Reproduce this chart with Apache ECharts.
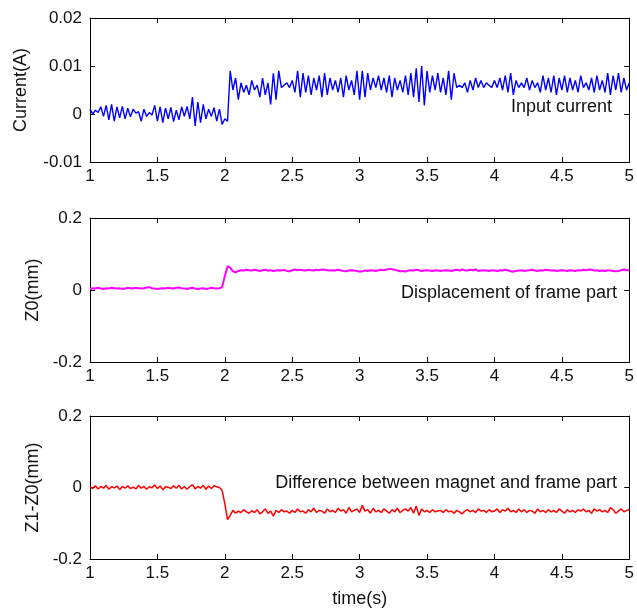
<!DOCTYPE html>
<html>
<head>
<meta charset="utf-8">
<script src="https://cdn.jsdelivr.net/npm/echarts@6/dist/echarts.min.js"></script>
<style>
html, body { margin: 0; background: #fff; }
#chart { width: 637px; height: 610px; }
</style>
</head>
<body>
<div id="chart"></div>
<script>
// samples every 0.02 s from t = 1 s to 5 s
var tStart = 1;
var tStep = 0.02;

// input current, mA (converted to A for the plot)
var currentMA = [
  1.0, 0.0, 0.8, 0.3, 1.5, -0.5, 1.8, -1.2, 2.0, -1.5,
  1.5, -0.8, 1.6, -1.0, 1.2, -0.6, 1.0, 0.2, 0.5, -1.5,
  1.0, -0.5, 0.3, -0.2, 1.8, -1.5, 1.5, -1.8, 1.2, -1.0,
  1.4, -1.6, 0.8, -1.2, 1.5, -0.5, 1.6, -1.0, 3.5, -2.5,
  2.5, -1.8, 2.0, -1.0, 1.0, -0.5, 1.3, -1.5, 1.0, -2.2,
  -1.0, -1.5, 9.0, 5.0, 7.5, 3.0, 6.5, 4.5, 6.0, 4.0,
  7.0, 5.0, 6.0, 3.5, 7.5, 4.0, 6.5, 2.0, 8.5, 3.0,
  9.0, 5.5, 6.0, 6.5, 5.5, 7.0, 4.5, 9.0, 3.5, 8.5,
  4.5, 8.0, 4.0, 7.5, 5.0, 8.0, 3.5, 8.5, 4.0, 7.5,
  5.0, 7.0, 4.5, 7.5, 3.5, 8.0, 5.0, 7.0, 4.0, 9.0,
  3.0, 9.0, 3.5, 8.5, 5.0, 7.5, 5.5, 8.0, 5.0, 7.5,
  4.5, 8.0, 3.5, 7.5, 5.0, 7.0, 4.5, 8.0, 4.0, 8.5,
  3.5, 9.5, 2.5, 10.0, 1.8, 9.0, 4.5, 8.0, 5.0, 8.5,
  4.5, 7.5, 4.0, 9.0, 3.0, 8.5, 5.5, 6.0, 5.5, 6.5,
  4.5, 7.0, 5.0, 7.5, 5.5, 7.0, 5.5, 6.5, 6.0, 5.5,
  7.0, 5.5, 7.5, 5.0, 8.0, 4.5, 8.5, 4.0, 7.0, 5.5,
  6.5, 5.5, 7.5, 5.0, 7.0, 5.5, 6.5, 4.5, 8.0, 5.0,
  7.5, 4.5, 8.0, 4.0, 7.5, 5.0, 8.0, 4.5, 7.5, 5.0,
  7.0, 4.5, 8.0, 5.5, 6.5, 5.0, 7.5, 4.5, 8.0, 5.0,
  7.0, 4.5, 8.5, 4.0, 8.0, 5.0, 8.5, 4.5, 7.5, 5.0,
  6.5
];

// frame displacement Z0, um (converted to mm)
var z0Um = [
  3, 5, 4, 6, 4, 3, 5, 4, 6, 5,
  4, 5, 3, 4, 6, 5, 4, 6, 5, 4,
  5, 7, 8, 5, 4, 3, 4, 5, 4, 6,
  5, 4, 6, 7, 5, 4, 3, 5, 6, 4,
  3, 4, 5, 3, 4, 6, 5, 4, 5, 8,
  38, 66, 62, 52, 49, 53, 55, 54, 56, 55,
  54, 56, 55, 53, 55, 56, 54, 55, 53, 54,
  55, 54, 56, 53, 52, 55, 57, 55, 56, 55,
  54, 56, 55, 54, 56, 55, 57, 56, 55, 54,
  55, 54, 56, 55, 53, 52, 54, 55, 54, 53,
  51, 52, 54, 53, 55, 54, 53, 55, 56, 55,
  57, 58, 58, 56, 54, 52, 53, 51, 54, 55,
  54, 56, 55, 53, 54, 55, 54, 53, 55, 54,
  53, 54, 55, 54, 53, 55, 56, 54, 57, 55,
  54, 56, 55, 57, 53, 54, 55, 54, 53, 55,
  54, 53, 55, 54, 56, 55, 52, 51, 53, 54,
  55, 53, 54, 55, 56, 54, 53, 55, 54, 56,
  55, 54, 55, 53, 54, 55, 54, 53, 55, 54,
  53, 55, 54, 56, 55, 57, 56, 54, 55, 53,
  54, 53, 55, 54, 53, 52, 53, 55, 57, 55,
  55
];

// magnet minus frame Z1-Z0, um (converted to mm)
var diffUm = [
  2, -3, 5, -4, 3, -2, 6, -5, 2, -1,
  4, -6, 3, -2, 5, -3, 1, -4, 6, -2,
  3, -5, 2, -1, 7, -3, 4, -6, 2, 1,
  -3, 5, -2, 6, -4, 3, -5, 2, 8, -4,
  3, -2, 6, -5, 4, -3, 5, 2, 0, -8,
  -45, -90, -78, -64, -72, -66, -70, -62, -68, -72,
  -65, -70, -62, -74, -68, -60, -72, -66, -80, -64,
  -70, -62, -68, -66, -72, -64, -70, -60, -68, -66,
  -72, -62, -68, -58, -70, -64, -66, -72, -60, -68,
  -64, -70, -58, -66, -62, -72, -56, -68, -64, -60,
  -70, -50, -66, -62, -72, -58, -68, -64, -70, -60,
  -66, -72, -62, -68, -58, -70, -64, -60, -66, -56,
  -72, -52, -78, -60, -68, -64, -70, -62, -68, -66,
  -64, -70, -62, -68, -66, -72, -64, -68, -74, -66,
  -62, -68, -64, -70, -60, -66, -64, -70, -62, -68,
  -66, -60, -70, -62, -66, -58, -68, -64, -70, -60,
  -68, -62, -70, -64, -66, -72, -60, -68, -64, -70,
  -62, -68, -64, -70, -60, -66, -72, -62, -68, -64,
  -70, -62, -66, -60, -68, -64, -72, -60, -66, -62,
  -68, -64, -70, -56, -62, -72, -66, -60, -68, -64,
  -62
];

var yNames = ['Current(A)', 'Z0(mm)', 'Z1-Z0(mm)'];
var yMin = [-0.01, -0.2, -0.2];
var yMax = [0.02, 0.2, 0.2];
var yInterval = [0.01, 0.2, 0.2];
var notes = ['Input current', 'Displacement of frame part', 'Difference between magnet and frame part'];
var lineColors = ['#0000ff', '#ff00ff', '#ff0000'];

function toPairs(vals, scale) {
  return vals.map(function (v, i) {
    return [+(tStart + i * tStep).toFixed(2), +(v * scale).toFixed(5)];
  });
}

var seriesData = [toPairs(currentMA, 0.001), toPairs(z0Um, 0.001), toPairs(diffUm, 0.001)];

var font = "'Liberation Sans', Arial, sans-serif";
var grids = [
  { left: 90, top: 18, width: 543, height: 144 },
  { left: 90, top: 218, width: 543, height: 144 },
  { left: 90, top: 416, width: 543, height: 143 }
];
var nameGaps = [60, 48, 48];
var noteY = [108, 294, 484];
var noteRight = [612, 617, 617];
var lineWidths = [1.4, 2, 1.5];

var xAxes = [], yAxes = [], series = [], graphics = [];
var tick = { show: true, inside: true, length: 5, lineStyle: { color: '#000' } };
var line = { show: true, onZero: false, lineStyle: { color: '#000', width: 1 } };

for (var g = 0; g < 3; g++) {
  xAxes.push({
    type: 'value', gridIndex: g, position: 'bottom', min: 1, max: 5, interval: 0.5,
    axisLine: line, axisTick: tick, splitLine: { show: false },
    axisLabel: { color: '#111', fontFamily: font, fontSize: 17, margin: 6 },
    name: g === 2 ? 'time(s)' : '', nameLocation: 'middle', nameGap: 31,
    nameTextStyle: { color: '#111', fontFamily: font, fontSize: 18 }
  });
  xAxes.push({
    type: 'value', gridIndex: g, position: 'top', min: 1, max: 5, interval: 0.5,
    axisLine: line, axisTick: tick, axisLabel: { show: false }, splitLine: { show: false }
  });
  yAxes.push({
    type: 'value', gridIndex: g, position: 'left', min: yMin[g], max: yMax[g], interval: yInterval[g],
    axisLine: line, axisTick: tick, splitLine: { show: false },
    axisLabel: { color: '#111', fontFamily: font, fontSize: 17, margin: 8 },
    name: yNames[g], nameLocation: 'middle', nameGap: nameGaps[g],
    nameTextStyle: { color: '#111', fontFamily: font, fontSize: 18 }
  });
  yAxes.push({
    type: 'value', gridIndex: g, position: 'right', min: yMin[g], max: yMax[g], interval: yInterval[g],
    axisLine: line, axisTick: tick, axisLabel: { show: false }, splitLine: { show: false }
  });
  series.push({
    type: 'line', xAxisIndex: g * 2, yAxisIndex: g * 2, data: seriesData[g],
    showSymbol: false, symbol: 'none', animation: false,
    lineStyle: { color: lineColors[g], width: lineWidths[g] }
  });
  graphics.push({
    type: 'text', right: 637 - noteRight[g], top: noteY[g] - 10,
    style: { text: notes[g], fill: '#111', font: '18px ' + font }
  });
}

var chart = echarts.init(document.getElementById('chart'));
chart.setOption({
  animation: false,
  backgroundColor: '#fff',
  grid: grids,
  xAxis: xAxes,
  yAxis: yAxes,
  series: series,
  graphic: graphics
});
</script>
</body>
</html>
